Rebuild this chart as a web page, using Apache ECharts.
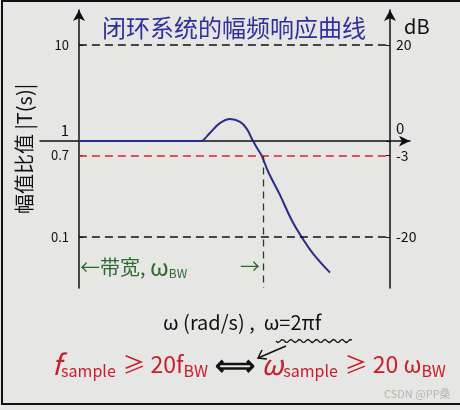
<!DOCTYPE html>
<html>
<head>
<meta charset="utf-8">
<script src="https://cdn.jsdelivr.net/npm/echarts@6/dist/echarts.min.js"></script>
<style>
  html, body { margin: 0; padding: 0; background: #e6e6e4; }
  #chart { width: 460px; height: 410px; }
</style>
</head>
<body>
<div id="chart"></div>
<script>
// 频率（横轴无刻度，0~100 为两条竖轴之间）
const freqX = [0, 20, 38.9, 42.1, 45.3, 48.6, 51.8, 53.9, 55.5, 57.1, 58.7, 60.9, 64.6, 68.4, 71.6, 75.3, 80.7];
// 幅频响应 dB
const gainDb = [0, 0, 0, 1.7, 3.75, 4.6, 4.0, 2.6, 0.6, -1.3, -3, -6.5, -11.2, -16.5, -20, -23.5, -27.4];
// 刻度
const dbTicks = [20, 0, -3, -20];
const magLabels = ['10', '1', '0.7', '0.1'];
const bandwidthX = 59.2;

const yMin = -30.6, yMax = 27.3;
const font = '"Noto Sans CJK SC", "Noto Sans", sans-serif';

const chart = echarts.init(document.getElementById('chart'));

function dashed(color) {
    return { color: color, width: 1.5, type: [8, 5] };
}

// 波浪下划线
const wave = [];
for (let i = 0; i <= 40; i++) {
    wave.push([276 + i * 1.9, 341 + Math.sin(i * 1.4) * 1.6]);
}

chart.setOption({
    backgroundColor: '#e6e6e4',
    animation: false,
    title: {
        text: '闭环系统的幅频响应曲线',
        left: 229,
        top: 11,
        textAlign: 'center',
        textStyle: { color: '#30309a', fontSize: 24, fontWeight: 'normal', fontFamily: font }
    },
    grid: { left: 40, right: 50, top: 10, bottom: 122, outerBoundsMode: 'none', containLabel: false },
    xAxis: {
        type: 'value',
        min: -12.5,
        max: 106.4,
        axisLine: {
            onZero: true,
            symbol: ['none', 'arrow'],
            symbolSize: [8, 11],
            lineStyle: { color: '#111', width: 1.5 }
        },
        axisTick: { show: false },
        axisLabel: { show: false },
        splitLine: { show: false }
    },
    yAxis: [{
        type: 'value',
        position: 'left',
        offset: -39,
        min: yMin,
        max: yMax,
        name: '幅值比值 |T(s)|',
        nameLocation: 'middle',
        nameRotate: 90,
        nameGap: 45,
        nameTextStyle: { color: '#111', fontSize: 20, fontFamily: font },
        axisLine: {
            onZero: false,
            symbol: ['none', 'arrow'],
            symbolSize: [9, 11],
            lineStyle: { color: '#111', width: 1.5 }
        },
        axisTick: { customValues: dbTicks, length: 4, inside: true, lineStyle: { color: '#111' } },
        axisLabel: {
            customValues: dbTicks,
            color: '#111',
            fontSize: 13,
            fontFamily: font,
            margin: 10,
            formatter: function (v) {
                const s = magLabels[dbTicks.indexOf(v)];
                return v === 0 ? '{up|' + s + '}' : s;
            },
            rich: { up: { fontSize: 15, padding: [0, 0, 22, 0], color: '#111', fontFamily: font } }
        },
        splitLine: { show: false }
    }, {
        type: 'value',
        position: 'right',
        offset: -20,
        min: yMin,
        max: yMax,
        name: 'dB',
        nameGap: 0,
        nameTextStyle: {
            color: '#111', fontSize: 20, fontFamily: font,
            align: 'left', verticalAlign: 'top', padding: [6, 0, 0, 14]
        },
        axisLine: {
            onZero: false,
            symbol: ['none', 'arrow'],
            symbolSize: [9, 11],
            lineStyle: { color: '#111', width: 1.5 }
        },
        axisTick: { customValues: dbTicks, length: 4, inside: true, lineStyle: { color: '#111' } },
        axisLabel: {
            customValues: dbTicks,
            color: '#111',
            fontSize: 14,
            fontFamily: font,
            margin: 6,
            formatter: function (v) {
                return v === 0 ? '{up|0}' : String(v);
            },
            rich: { up: { fontSize: 15, padding: [0, 0, 26, 0], color: '#111', fontFamily: font } }
        },
        splitLine: { show: false }
    }],
    series: [{
        type: 'line',
        data: freqX.map((x, i) => [x, gainDb[i]]),
        smooth: 0.4,
        showSymbol: false,
        lineStyle: { color: '#2b2b8c', width: 2 },
        markLine: {
            silent: true,
            symbol: 'none',
            label: { show: false },
            data: [
                [{ coord: [0, dbTicks[0]], lineStyle: dashed('#111') }, { coord: [100, dbTicks[0]] }],
                [{ coord: [0, dbTicks[2]], lineStyle: dashed('#d8262a') }, { coord: [100, dbTicks[2]] }],
                [{ coord: [0, dbTicks[3]], lineStyle: dashed('#111') }, { coord: [100, dbTicks[3]] }],
                [{ coord: [bandwidthX, dbTicks[2]], lineStyle: { color: '#25402a', width: 1.3, type: [7, 5] } },
                 { coord: [bandwidthX, yMin] }]
            ]
        }
    }],
    graphic: [
        {
            type: 'rect',
            shape: { x: 2, y: 1, width: 480, height: 403 },
            style: { fill: 'none', stroke: '#111', lineWidth: 2 },
            silent: true
        },
        {
            type: 'text',
            left: 80, top: 255,
            style: {
                text: '←带宽, {w|ω}{s|BW}',
                fill: '#2d6a32', fontSize: 20, fontFamily: font,
                rich: {
                    w: { fill: '#2d6a32', fontSize: 24, fontFamily: font },
                    s: { fill: '#2d6a32', fontSize: 12, fontFamily: font, padding: [12, 0, 0, 0] }
                }
            }
        },
        {
            type: 'text',
            left: 240, top: 256,
            style: { text: '→', fill: '#2d6a32', fontSize: 20, fontFamily: font }
        },
        {
            type: 'text',
            left: 163, top: 312,
            style: { text: 'ω (rad/s) ,  ω=2πf', fill: '#111', fontSize: 20, fontFamily: font }
        },
        {
            type: 'polyline',
            shape: { points: wave },
            style: { stroke: '#111', lineWidth: 1.3, fill: 'none' }
        },
        {
            type: 'polyline',
            shape: { points: [[286, 346], [258, 358]] },
            style: { stroke: '#111', lineWidth: 1.5, fill: 'none' }
        },
        {
            type: 'polyline',
            shape: { points: [[262, 350], [258, 358], [267, 359]] },
            style: { stroke: '#111', lineWidth: 1.5, fill: 'none' }
        },
        {
            type: 'text',
            left: 52, top: 350,
            style: {
                text: '{f|f}{s|sample}  {r|≥ 20f}{s|BW}  {k|⟺}  {f|ω}{s|sample}  {r|≥ 20 ω}{s|BW}',
                rich: {
                    f: { fill: '#c8202a', fontSize: 28, fontFamily: font, fontStyle: 'italic' },
                    r: { fill: '#c8202a', fontSize: 23, fontFamily: font },
                    s: { fill: '#c8202a', fontSize: 16, fontFamily: font, padding: [14, 0, 0, 0] },
                    k: { fill: '#111', fontSize: 28, fontFamily: font, fontWeight: 'bold' }
                }
            }
        },
        {
            type: 'text',
            left: 384, top: 388,
            style: { text: 'CSDN @PP桑', fill: '#b4b4b4', fontSize: 11, fontFamily: font }
        }
    ]
});
</script>
</body>
</html>
